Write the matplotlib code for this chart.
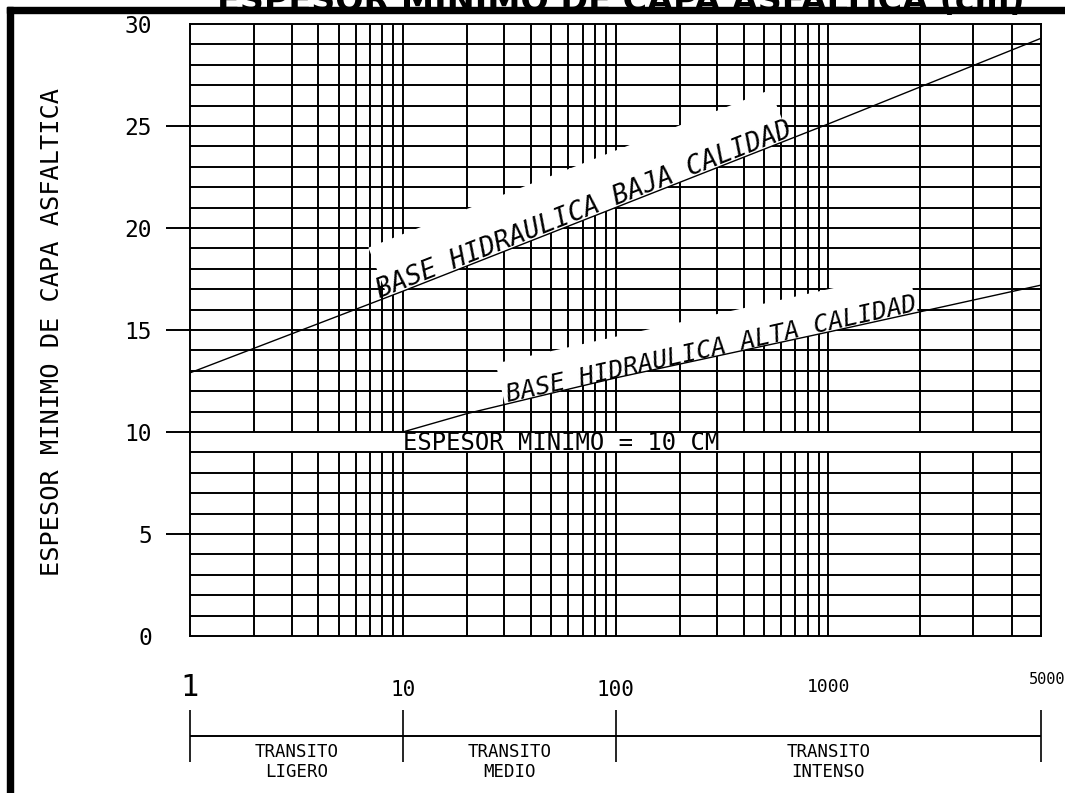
import numpy as np
import matplotlib
matplotlib.use('Agg')
import matplotlib.pyplot as plt
from matplotlib.patches import Polygon, Rectangle
from matplotlib.transforms import offset_copy

plt.rcParams['font.family'] = ['DejaVu Sans Mono', 'DejaVu Sans']

# values
grid_x = [1, 2, 3, 4, 5, 6, 7, 8, 9, 10,
          20, 30, 40, 50, 60, 70, 80, 90, 100,
          200, 300, 400, 500, 600, 700, 800, 900, 1000,
          2000, 3000, 4000, 5000]
grid_y = list(range(0, 31))
y_ticks = [0, 5, 10, 15, 20, 25, 30]

baja_x = [1, 10, 100, 1000, 5000]
baja_y = [12.9, 16.9, 21.0, 25.1, 29.3]
alta_x = [10, 20, 50, 100, 1000, 5000]
alta_y = [10.0, 10.9, 11.9, 12.65, 14.9, 17.2]
espesor_min = 10

scale_ticks = [1, 10, 100, 5000]
scale_label_x = [1, 10, 100, 1000, 5000]
scale_labels = ['1', '10', '100', '1000', '5000']
zones = [(1, 10, 'TRANSITO\nLIGERO'),
         (10, 100, 'TRANSITO\nMEDIO'),
         (100, 5000, 'TRANSITO\nINTENSO')]


# the drawing uses log decades up to 1000, then squeezes 1000-5000 into one decade
def fwd(x):
    x = np.clip(np.asarray(x, dtype=float), 1e-9, None)
    return np.where(x <= 1000, np.log10(x), 3 + np.log10(x / 1000) / np.log10(5))


def inv(u):
    u = np.asarray(u, dtype=float)
    return np.where(u <= 3, 10.0 ** u, 1000 * 5.0 ** (u - 3))


def curve_at(xq, xs, ys):
    return float(np.interp(fwd(xq), fwd(xs), ys))


W, H = 1065, 793
L, R, T, B = 190, 1041, 24, 636
fig = plt.figure(figsize=(W / 100, H / 100), dpi=100)
ax = fig.add_axes([L / W, 1 - B / H, (R - L) / W, (B - T) / H])
ax.set_xscale('function', functions=(fwd, inv))
ax.set_xlim(1, 5000)
ax.set_ylim(0, 30)
ax.set_xticks([])
ax.set_yticks(y_ticks)
ax.tick_params(axis='y', length=17.5, width=1.4, pad=10, labelsize=16.5)
for t, v in zip(ax.yaxis.get_major_ticks(), y_ticks):
    if v in (0, 30):
        t.tick1line.set_visible(False)
for s in ax.spines.values():
    s.set_linewidth(1.4)
    s.set_zorder(3.5)

lw = 1.4
ax.vlines(grid_x[1:-1], 0, 30, colors='black', lw=lw, zorder=1)
# blank strip for the minimum thickness label
ax.add_patch(Rectangle((1, espesor_min - 1), 4999, 1, facecolor='white',
                       edgecolor='none', zorder=1.5))
ax.hlines(grid_y[1:-1], 1, 5000, colors='black', lw=lw, zorder=2)


def white_band(xs, ys, x0, x1, h_px):
    p0 = ax.transData.transform((x0, curve_at(x0, xs, ys)))
    p1 = ax.transData.transform((x1, curve_at(x1, xs, ys)))
    d = (p1 - p0) / np.hypot(*(p1 - p0))
    n = np.array([-d[1], d[0]])
    top = ax.transData.inverted().transform(np.array([p1 + n * h_px, p0 + n * h_px]))
    bottom = [(x0, curve_at(x0, xs, ys))]
    bottom += [(xi, yi) for xi, yi in zip(xs, ys) if x0 < xi < x1]
    bottom += [(x1, curve_at(x1, xs, ys))]
    ax.add_patch(Polygon(np.vstack([bottom, top]), closed=True, facecolor='white',
                         edgecolor='none', zorder=2.5))
    return np.degrees(np.arctan2(d[1], d[0]))


ang_baja = white_band(baja_x, baja_y, 8.5, 660, 53)
ang_alta = white_band(alta_x, alta_y, 30.2, 1970, 42)

ax.plot(baja_x, baja_y, color='black', lw=1.0, zorder=3)
ax.plot(alta_x, alta_y, color='black', lw=1.0, zorder=3)

ax.text(7.8, curve_at(7.8, baja_x, baja_y) + 0.1, 'BASE HIDRAULICA BAJA CALIDAD',
        rotation=ang_baja, rotation_mode='anchor', ha='left', va='baseline',
        fontsize=19, fontstyle='oblique', zorder=4)
ax.text(31.2, curve_at(31.2, alta_x, alta_y) + 0.1, 'BASE HIDRAULICA ALTA CALIDAD',
        rotation=ang_alta, rotation_mode='anchor', ha='left', va='baseline',
        fontsize=18, fontstyle='oblique', zorder=4)
ax.text(10, espesor_min - 0.9, 'ESPESOR MINIMO = 10 CM', ha='left', va='baseline',
        fontsize=17.2, zorder=4)

fig.text(52 / W, 1 - 332 / H, 'ESPESOR MINIMO DE CAPA ASFALTICA', rotation=90,
         ha='center', va='center', fontsize=18.2)

# traffic scale under the chart
ax2 = fig.add_axes([L / W, 0, (R - L) / W, (H - 650) / H])
ax2.set_xscale('function', functions=(fwd, inv))
ax2.set_xlim(1, 5000)
ax2.set_ylim(H, 650)
ax2.axis('off')
ax2.hlines(736, 1, 5000, colors='black', lw=lw, clip_on=False)
ax2.vlines(scale_ticks, 710, 762, colors='black', lw=1.2, clip_on=False)
label_style = [(22, 688, 0), (15, 690, 0), (15, 690, 0), (13, 687, 0), (11, 680, 6)]
for xv, txt, (fs, yc, dx) in zip(scale_label_x, scale_labels, label_style):
    tr = offset_copy(ax2.transData, fig=fig, x=dx * 0.72, y=0, units='points')
    ax2.text(xv, yc, txt, ha='center', va='center', fontsize=fs, transform=tr)
for a, b, txt in zones:
    xm = float(inv((fwd(a) + fwd(b)) / 2))
    ax2.text(xm, 762, txt, ha='center', va='center', fontsize=12.5, linespacing=1.15)

# cut-off title and heavy frame of the original sheet
fig.text(1025 / W, 1 - 11 / H, 'ESPESOR MÍNIMO DE CAPA ASFÁLTICA (cm)', ha='right',
         va='baseline', fontsize=24, fontweight='bold', family='DejaVu Sans', zorder=1)
fig.add_artist(Rectangle((7 / W, 1 - 13 / H), (W - 7) / W, 6 / H,
                         transform=fig.transFigure, color='black', zorder=5))
fig.add_artist(Rectangle((7 / W, 0), 6 / W, (H - 7) / H,
                         transform=fig.transFigure, color='black', zorder=5))

fig.savefig('out.png', dpi=100)
